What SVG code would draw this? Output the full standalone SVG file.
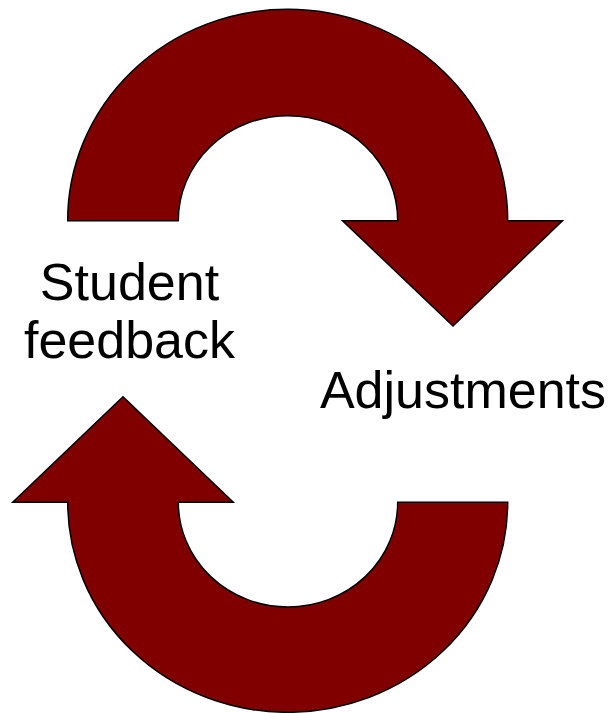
<svg xmlns="http://www.w3.org/2000/svg" width="614" height="713" viewBox="0 0 614 713">
  <style>
    .arrow { fill: #800000; stroke: #000000; stroke-width: 1.5; stroke-linejoin: miter; }
    .label { font-family: "Liberation Sans", Arial, sans-serif; font-size: 52px; fill: #000000; text-anchor: middle; }
  </style>
  <rect x="0" y="0" width="614" height="713" fill="#ffffff"/>
  <g id="connectors">
    <g id="arrow-top">
      <path class="arrow" d="M 67.7,220.7 A 220,211.4 0 0 1 507.7,220.7 L 562.5,220.7 L 453,326 L 342.5,220.7 L 397.7,220.7 A 109.7,105 0 0 0 178.3,220.7 Z"/>
    </g>
    <g id="arrow-bottom">
      <path class="arrow" d="M 507.7,502.3 A 220,210 0 0 1 67.7,502.3 L 12.7,502.3 L 123,396.7 L 233.3,502.3 L 178.3,502.3 A 109.7,104.7 0 0 0 397.7,502.3 Z"/>
    </g>
  </g>
  <g id="node-student-feedback">
    <text class="label" x="129.5" y="300">Student</text>
    <text class="label" x="129.5" y="358">feedback</text>
  </g>
  <g id="node-adjustments">
    <text class="label" x="463" y="408">Adjustments</text>
  </g>
</svg>
